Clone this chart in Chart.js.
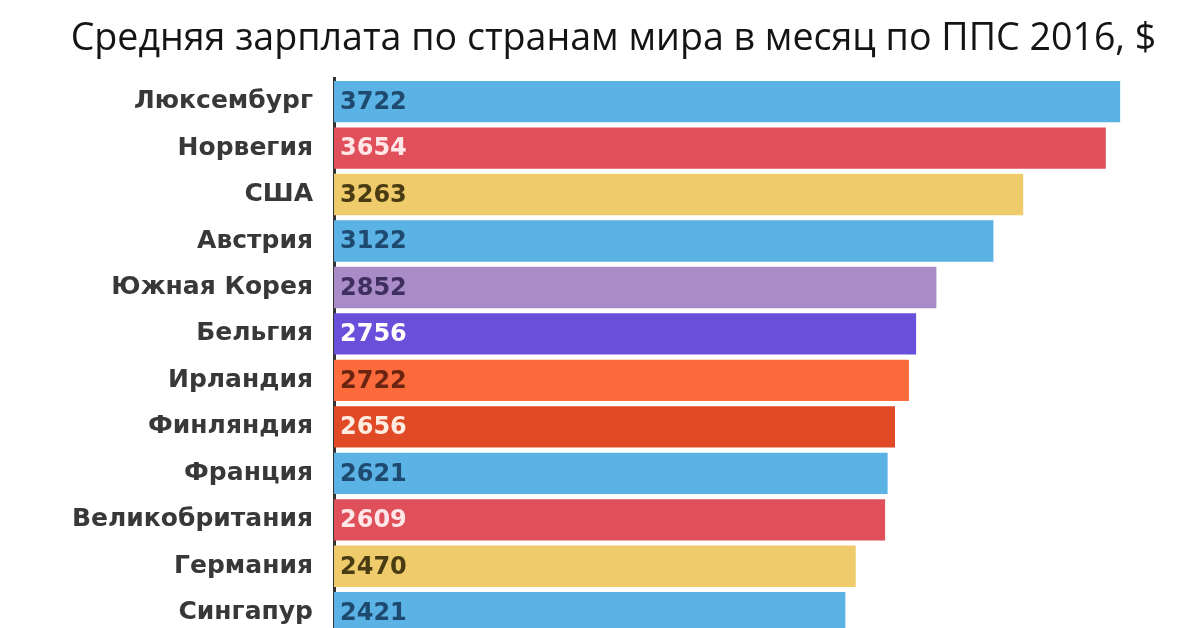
<!DOCTYPE html>
<html><head><meta charset="utf-8">
<script src="https://cdn.jsdelivr.net/npm/chart.js@4"></script>
<style>
html,body{margin:0;padding:0;background:#fff;overflow:hidden;width:1200px;height:628px}
canvas{display:block}
</style></head>
<body><canvas id="c" width="1200" height="672"></canvas>
<script>
const titleText = 'Средняя зарплата по странам мира в месяц по ППС 2016, $';
const countries = ['Люксембург','Норвегия','США','Австрия','Южная Корея','Бельгия','Ирландия','Финляндия','Франция','Великобритания','Германия','Сингапур'];
const salaries = [3722,3654,3263,3122,2852,2756,2722,2656,2621,2609,2470,2421];
const barColors = ['#5bb2e4','#e0505b','#efcb6b','#5bb2e4','#a98bc8','#6a4fdb','#fd6a3c','#e04a26','#5bb2e4','#e0505b','#efcb6b','#5bb2e4'];
const valueColors = ['#1f4a70','#ffe6e8','#4a3c12','#1f4a70','#3f2f5e','#ffffff','#6a2410','#ffece0','#1f4a70','#ffe6e8','#4a3c12','#1f4a70'];

const valueLabels = {
  id: 'valueLabels',
  afterDatasetsDraw(chart) {
    const ctx = chart.ctx;
    const meta = chart.getDatasetMeta(0);
    ctx.save();
    ctx.font = 'bold 24px "DejaVu Sans"';
    ctx.textBaseline = 'middle';
    ctx.textAlign = 'left';
    meta.data.forEach((bar, i) => {
      ctx.fillStyle = valueColors[i];
      ctx.fillText(String(salaries[i]), bar.base + 6, bar.y + 1);
    });
    ctx.restore();
  }
};

new Chart(document.getElementById('c'), {
  type: 'bar',
  data: {
    labels: countries,
    datasets: [{
      data: salaries,
      backgroundColor: barColors,
      borderWidth: 0,
      barPercentage: 0.89,
      categoryPercentage: 1
    }]
  },
  options: {
    indexAxis: 'y',
    responsive: false,
    maintainAspectRatio: false,
    animation: false,
    devicePixelRatio: 1,
    layout: { padding: { left: 27, right: 0, top: 0, bottom: 4 } },
    plugins: {
      legend: { display: false },
      tooltip: { enabled: false },
      title: {
        display: true,
        text: titleText,
        color: '#141414',
        font: { family: '"Open Sans"', size: 37.6, weight: 'normal', lineHeight: 1.1 },
        padding: { top: 19, bottom: 18 }
      }
    },
    scales: {
      x: { display: false, min: 0, max: 4100 },
      y: {
        afterFit(scale) { scale.width = 307; },
        grid: { display: false, drawTicks: false },
        border: { display: true, color: '#333333', width: 3 },
        ticks: {
          padding: 21,
          color: '#383838',
          font: { family: '"DejaVu Sans"', size: 25, weight: 'bold' }
        }
      }
    }
  },
  plugins: [valueLabels]
});
</script>
</body></html>
